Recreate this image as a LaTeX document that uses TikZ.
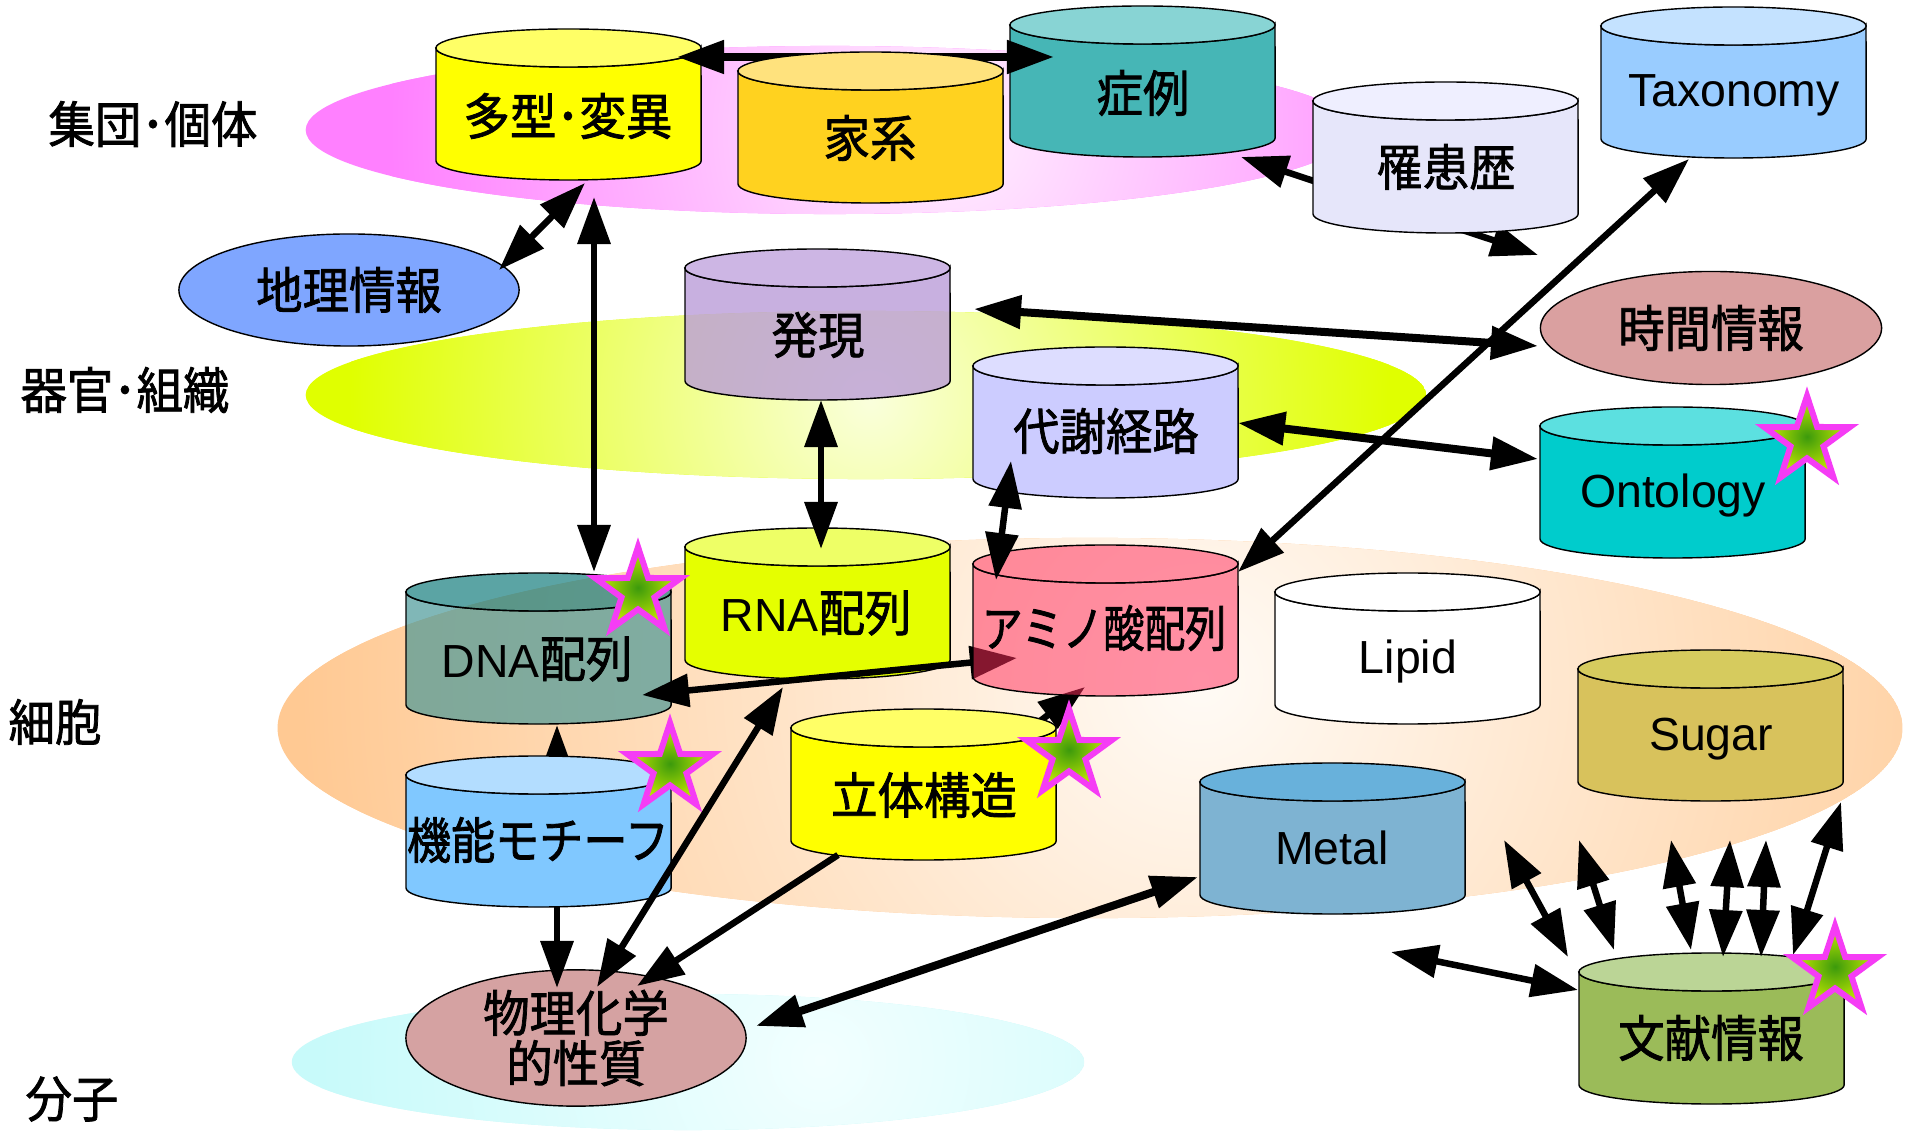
\documentclass[tikz,border=0pt]{standalone}
\usepackage{fontspec}
\usepackage{graphicx}
\setmainfont{Liberation Sans}
\newfontfamily\cjk[FakeBold=1.6]{Noto Sans CJK JP}
\newcommand\jp[1]{\scalebox{1}[1.07]{\cjk #1}}
\usetikzlibrary{arrows.meta,shapes.geometric}

\definecolor{pinkin}{HTML}{FFF0FF}
\definecolor{pinkout}{HTML}{FF80FF}
\definecolor{ylwin}{HTML}{FAFFDC}
\definecolor{ylwout}{HTML}{E0FF00}
\definecolor{orin}{HTML}{FFFBF6}
\definecolor{orout}{HTML}{FFC993}
\definecolor{cyin}{HTML}{F2FFFF}
\definecolor{cyout}{HTML}{C8FAFA}

\definecolor{cTayou}{HTML}{FFFF00}\definecolor{tTayou}{HTML}{FFFF66}
\definecolor{cKakei}{HTML}{FFD21F}\definecolor{tKakei}{HTML}{FFE27D}
\definecolor{cShourei}{HTML}{46B6B6}\definecolor{tShourei}{HTML}{88D4D4}
\definecolor{cRikan}{HTML}{E6E6FA}\definecolor{tRikan}{HTML}{EFEFFF}
\definecolor{cTaxo}{HTML}{99CCFF}\definecolor{tTaxo}{HTML}{C4E2FF}
\definecolor{cHatsu}{HTML}{B99AD8}\definecolor{tHatsu}{HTML}{BFA2DD}
\definecolor{cTaisha}{HTML}{CCCCFF}\definecolor{tTaisha}{HTML}{DDDDFF}
\definecolor{cOnto}{HTML}{00CCCC}\definecolor{tOnto}{HTML}{5CE0E0}
\definecolor{cDna}{HTML}{449696}\definecolor{tDna}{HTML}{0E7979}
\definecolor{cRna}{HTML}{E5FF00}\definecolor{tRna}{HTML}{EEFF66}
\definecolor{cAmino}{HTML}{FF2E5C}
\definecolor{cSugar}{HTML}{D8C25C}\definecolor{tSugar}{HTML}{D6CB5E}
\definecolor{cKinou}{HTML}{80C8FF}\definecolor{tKinou}{HTML}{B3DDFF}
\definecolor{cMetal}{HTML}{7EB3D2}\definecolor{tMetal}{HTML}{68B1DB}
\definecolor{cBunken}{HTML}{9BBB59}\definecolor{tBunken}{HTML}{BBD596}
\definecolor{cChiri}{HTML}{7FA6FF}
\definecolor{cJikan}{HTML}{DAA0A0}
\definecolor{cButsuri}{HTML}{D5A2A2}
\definecolor{starline}{HTML}{F53CF5}
\definecolor{stargreen}{HTML}{3C9A0C}
\definecolor{staryellow}{HTML}{CDEE00}

% cylinder: #1 left x, #2 top y, #3 body colour, #4 top colour, #5 fill opacity
\newcommand\dbcyl[5]{%
  \pgfmathsetmacro\cylxr{#1+265}%
  \pgfmathsetmacro\cylcx{#1+132.5}%
  \pgfmathsetmacro\cylyt{#2+19}%
  \pgfmathsetmacro\cylyb{#2+132}%
  \path[draw=black, line width=0.4pt, fill=#3, fill opacity=#5]
    (#1,\cylyt) -- (#1,\cylyb)
    arc[start angle=180, end angle=360, x radius=1.325cm, y radius=0.19cm]
    -- (\cylxr,\cylyt)
    arc[start angle=0, end angle=-180, x radius=1.325cm, y radius=0.19cm] -- cycle;
  \path[draw=black, line width=0.4pt, fill=#4, fill opacity=#5]
    (\cylcx,\cylyt) ellipse[x radius=1.325cm, y radius=0.19cm];
}

\begin{document}
\begin{tikzpicture}[x=0.01cm, y=-0.01cm,
  >={Triangle[length=0.47cm,width=0.32cm]},
  ctext/.style={font=\fontsize{13.2}{13.1}\selectfont, inner sep=0pt, align=center},
  ltext/.style={font=\fontsize{13.2}{13.1}\selectfont, inner sep=0pt},
  elnode/.style={ellipse, draw=black, line width=0.4pt, inner sep=0pt,
    font=\fontsize{13.2}{13.1}\selectfont, align=center},
  link/.style={line width=0.065cm, <->},
  linkthick/.style={line width=0.08cm, <->},
  onelink/.style={line width=0.065cm, ->},
  starmark/.style={star, star points=5, star point ratio=2.6, minimum size=0.9cm,
    inner sep=0pt, draw=starline, line width=0.06cm,
    inner color=stargreen, outer color=staryellow}
]
\useasboundingbox (0,0) rectangle (1909,1131);
\fill[white] (0,0) rectangle (1909,1131);

% ---------- background level ellipses ----------
\begin{scope}
  \clip (830,130) ellipse[x radius=5.24cm, y radius=0.84cm];
  \fill[pinkout] (830,130) ellipse[x radius=5.24cm, y radius=0.84cm];
  \shade[inner color=pinkin, outer color=pinkout] (950,130) circle[radius=5.6cm];
\end{scope}
\begin{scope}
  \clip (866,395) ellipse[x radius=5.6cm, y radius=0.84cm];
  \fill[ylwout] (866,395) ellipse[x radius=5.6cm, y radius=0.84cm];
  \shade[inner color=ylwin, outer color=ylwout] (870,400) circle[radius=5.2cm];
\end{scope}
\begin{scope}
  \clip (1090,728) ellipse[x radius=8.12cm, y radius=1.9cm];
  \fill[orout] (1090,728) ellipse[x radius=8.12cm, y radius=1.9cm];
  \shade[inner color=orin, outer color=orout] (1200,680) circle[radius=9cm];
\end{scope}
\begin{scope}
  \clip (688,1062) ellipse[x radius=3.96cm, y radius=0.68cm];
  \fill[cyout] (688,1062) ellipse[x radius=3.96cm, y radius=0.68cm];
  \shade[inner color=cyin, outer color=cyout] (820,1060) circle[radius=5cm];
\end{scope}

% level labels
\node[ctext] (lvA) at (153,124) {\jp{集団･個体}};
\node[ctext] (lvB) at (125,390) {\jp{器官･組織}};
\node[ctext] (lvC) at (55,722) {\jp{細胞}};
\node[ctext] (lvD) at (72,1099) {\jp{分子}};

% ---------- coordinates of connector ends ----------
\coordinate (pA1) at (677,57);   \coordinate (pA2) at (1054,57);
\coordinate (pB1) at (585,183);  \coordinate (pB2) at (499,270);
\coordinate (pC1) at (594,197);  \coordinate (pC2) at (594,572);
\coordinate (pD1) at (821,400);  \coordinate (pD2) at (821,549);
\coordinate (pE1) at (974,309);  \coordinate (pE2) at (1538,346);
\coordinate (pF1) at (1241,157); \coordinate (pF2) at (1538,255);
\coordinate (pG1) at (1689,159); \coordinate (pG2) at (1238,572);
\coordinate (pH1) at (1238,423); \coordinate (pH2) at (1538,459);
\coordinate (pI1) at (1011,461); \coordinate (pI2) at (996,580);
\coordinate (pJ1) at (642,695);  \coordinate (pJ2) at (1017,658);
\coordinate (pK1) at (1019,737); \coordinate (pK2) at (1085,687);
\coordinate (pL1) at (557,790);  \coordinate (pL2) at (557,725);
\coordinate (pM1) at (557,906);  \coordinate (pM2) at (557,988);
\coordinate (pN1) at (783,687);  \coordinate (pN2) at (597,987);
\coordinate (pO1) at (838,855);  \coordinate (pO2) at (637,986);
\coordinate (pP1) at (756,1026); \coordinate (pP2) at (1198,877);
\coordinate (f1a) at (1504,840); \coordinate (f1b) at (1568,957);
\coordinate (f2a) at (1579,840); \coordinate (f2b) at (1614,950);
\coordinate (f3a) at (1671,840); \coordinate (f3b) at (1691,950);
\coordinate (f4a) at (1730,840); \coordinate (f4b) at (1723,957);
\coordinate (f5a) at (1766,840); \coordinate (f5b) at (1761,957);
\coordinate (f6a) at (1841,802); \coordinate (f6b) at (1793,955);
\coordinate (f7a) at (1391,952); \coordinate (f7b) at (1578,990);

% ---------- top row ----------
\dbcyl{1010}{6}{cShourei}{tShourei}{1}
\node[ctext] (shourei) at (1143,93) {\jp{症例}};
\dbcyl{436}{29}{cTayou}{tTayou}{1}
\node[ctext] (tayou) at (568,116) {\jp{多型･変異}};
\draw[linkthick] (pA1) -- (pA2);
\dbcyl{738}{52}{cKakei}{tKakei}{1}
\node[ctext] (kakei) at (870,138) {\jp{家系}};
\draw[link] (pF1) -- (pF2);
\dbcyl{1313}{82}{cRikan}{tRikan}{1}
\node[ctext] (rikan) at (1446,167) {\jp{罹患歴}};
\dbcyl{1601}{7}{cTaxo}{tTaxo}{1}
\node[ltext] (taxo) at (1734,95) {Taxonomy};

\node[elnode, fill=cChiri, minimum width=3.4cm, minimum height=1.12cm] (chiri) at (349,290) {\jp{地理情報}};
\node[elnode, fill=cJikan, minimum width=3.41cm, minimum height=1.13cm] (jikan) at (1711,328) {\jp{時間情報}};

% ---------- organ row ----------
\dbcyl{685}{249}{cHatsu}{tHatsu}{0.78}
\node[ctext] (hatsugen) at (818,335) {\jp{発現}};
\dbcyl{973}{347}{cTaisha}{tTaisha}{1}
\node[ctext] (taisha) at (1106,431) {\jp{代謝経路}};
\dbcyl{1540}{407}{cOnto}{tOnto}{1}
\node[ltext] (onto) at (1673,496) {Ontology};

% ---------- cell row ----------
\dbcyl{406}{573}{cDna}{tDna}{0.68}
\node[ltext] (dna) at (537,659) {DNA\jp{配列}};
\dbcyl{685}{528}{cRna}{tRna}{1}
\node[ltext] (rna) at (816,613) {RNA\jp{配列}};
\dbcyl{1275}{573}{white}{white}{1}
\node[ltext] (lipid) at (1408,662) {Lipid};
\dbcyl{1578}{650}{cSugar}{tSugar}{1}
\node[ltext] (sugar) at (1711,739) {Sugar};
\dbcyl{1200}{763}{cMetal}{tMetal}{1}
\node[ltext] (metal) at (1332,848) {Metal};
\dbcyl{1579}{953}{cBunken}{tBunken}{1}
\node[ctext] (bunken) at (1711,1038) {\jp{文献情報}};
\node[elnode, fill=cButsuri, minimum width=3.4cm, minimum height=1.13cm] (butsuri) at (576,1038) {\jp{物理化学}\\[1.2pt]\jp{的性質}};

\draw[onelink] (pK1) -- (pK2);
\draw[link] (pJ1) -- (pJ2);
\dbcyl{973}{545}{cAmino}{cAmino}{0.52}
\node[ctext] (amino) at (1104,628) {\scalebox{0.88}[1.07]{\cjk アミノ酸配列}};
\dbcyl{791}{709}{cTayou}{tTayou}{1}
\node[ctext] (rittai) at (924,795) {\jp{立体構造}};
\draw[onelink] (pL1) -- (pL2);
\dbcyl{406}{756}{cKinou}{tKinou}{1}
\node[ctext] (kinou) at (538,840) {\scalebox{0.95}[1.07]{\cjk 機能モチーフ}};

% ---------- connectors ----------
\draw[link] (pB1) -- (pB2);
\draw[link] (pC1) -- (pC2);
\draw[link] (pD1) -- (pD2);
\draw[linkthick] (pE1) -- (pE2);
\draw[linkthick] (pH1) -- (pH2);
\draw[link] (pG1) -- (pG2);
\draw[link] (pI1) -- (pI2);
\draw[onelink] (pM1) -- (pM2);
\draw[link] (pN1) -- (pN2);
\draw[onelink] (pO1) -- (pO2);
\draw[linkthick] (pP1) -- (pP2);
\draw[link] (f1a) -- (f1b);
\draw[link] (f2a) -- (f2b);
\draw[link] (f3a) -- (f3b);
\draw[link] (f4a) -- (f4b);
\draw[link] (f5a) -- (f5b);
\draw[link] (f6a) -- (f6b);
\draw[link] (f7a) -- (f7b);

% ---------- stars ----------
\node[starmark] (starDna) at (638,592) {};
\node[starmark] (starKinou) at (670,768) {};
\node[starmark] (starRittai) at (1069,754) {};
\node[starmark] (starOnto) at (1807,441) {};
\node[starmark] (starBunken) at (1835,971) {};
\end{tikzpicture}
\end{document}
